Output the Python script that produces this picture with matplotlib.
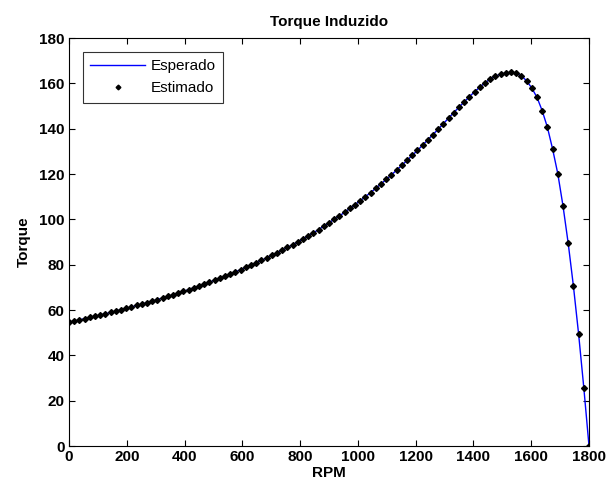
import numpy as np
import matplotlib
matplotlib.use("Agg")
import matplotlib.pyplot as plt

plt.rcParams["font.family"] = ["Liberation Sans Narrow", "Liberation Sans", "DejaVu Sans"]

# speed grid (rpm), 18 rpm step from 0 to 1800
rpm = np.arange(0, 1801, 18)

# induced torque, one value per rpm point
torque = [
    54.6, 55.1, 55.6, 56.2, 56.7, 57.2, 57.8, 58.3, 58.9, 59.5,
    60.1, 60.7, 61.3, 62.0, 62.6, 63.2, 63.9, 64.6, 65.3, 66.0,
    66.7, 67.5, 68.2, 69.0, 69.8, 70.6, 71.4, 72.3, 73.1, 74.0,
    74.9, 75.8, 76.8, 77.8, 78.8, 79.8, 80.8, 81.9, 83.0, 84.1,
    85.2, 86.4, 87.6, 88.8, 90.1, 91.4, 92.8, 94.1, 95.5, 97.0,
    98.5, 100.0, 101.5, 103.1, 104.8, 106.5, 108.2, 110.0, 111.8, 113.7,
    115.6, 117.6, 119.6, 121.7, 123.8, 126.0, 128.2, 130.4, 132.7, 135.1,
    137.4, 139.8, 142.2, 144.7, 147.1, 149.5, 151.8, 154.1, 156.3, 158.3,
    160.2, 161.9, 163.1, 164.1, 164.5, 164.8, 164.4, 163.3, 161.1, 157.9,
    153.8, 147.9, 140.6, 131.0, 120.1, 105.9, 89.4, 70.6, 49.4, 25.7,
    0.0,
]

xticks = list(range(0, 1801, 200))
yticks = list(range(0, 181, 20))

fig = plt.figure(figsize=(6.14, 4.86), dpi=100)
ax = fig.add_axes([0.1124, 0.0823, 0.8469, 0.8395])

ax.plot(rpm, torque, color="#0000ff", lw=1.0, label="Esperado", zorder=2)
ax.plot(rpm, torque, ls="none", marker="D", ms=3.0, color="black",
        label="Estimado", zorder=3)

ax.set_xlim(0, 1800)
ax.set_ylim(0, 180)
ax.set_xticks(xticks)
ax.set_yticks(yticks)
ax.tick_params(direction="in", top=True, right=True, length=4, width=0.8,
               labelsize=11, pad=3)
for lab in ax.get_xticklabels() + ax.get_yticklabels():
    lab.set_fontweight("bold")
for sp in ax.spines.values():
    sp.set_linewidth(0.8)

ax.set_xlabel("RPM", fontsize=11, fontweight="bold", labelpad=1)
ax.set_ylabel("Torque", fontsize=11, fontweight="bold", labelpad=6)
ax.set_title("Torque Induzido", fontsize=11, fontweight="bold", pad=9)

leg = ax.legend(loc="upper left", fontsize=11, frameon=True, fancybox=False,
                edgecolor="black", borderaxespad=0.9, handlelength=3.6,
                handletextpad=0.35, borderpad=0.5, labelspacing=0.5,
                markerscale=0.8)
leg.get_frame().set_linewidth(0.8)

fig.savefig("out.png", dpi=100)
